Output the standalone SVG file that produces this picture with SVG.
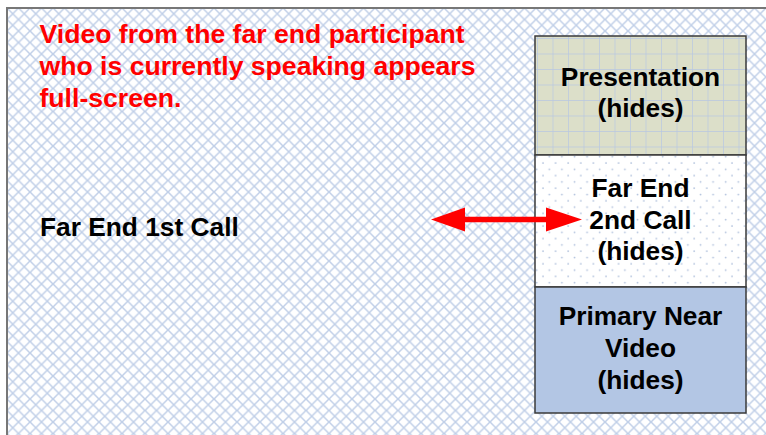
<svg xmlns="http://www.w3.org/2000/svg" width="766" height="435" viewBox="0 0 766 435">
<defs>
<pattern id="hatch" patternUnits="userSpaceOnUse" width="11.5" height="11.5" x="7" y="8">
<rect width="11.5" height="11.5" fill="#ffffff"/>
<path d="M-1,-1 L12.5,12.5 M12.5,-1 L-1,12.5" stroke="#c0cfe8" stroke-width="1.5" fill="none"/>
</pattern>
<pattern id="grid" patternUnits="userSpaceOnUse" width="15.5" height="15.5" x="537" y="38">
<rect width="15.5" height="15.5" fill="#dcdfc9"/>
<path d="M0,0 V15.5 M0,0 H15.5" stroke="#b8c8e2" stroke-width="1.4" fill="none"/>
</pattern>
<pattern id="dots" patternUnits="userSpaceOnUse" width="12.6" height="12.6" x="540" y="160">
<rect width="12.6" height="12.6" fill="#ffffff"/>
<circle cx="3" cy="3" r="0.9" fill="#b0c0dc"/>
<circle cx="9.3" cy="9.3" r="0.9" fill="#b0c0dc"/>
</pattern>
<style>
.t{font-family:"Liberation Sans",Arial,sans-serif;font-weight:bold;font-size:26.3px;fill:#000}
.red{fill:#ff0000;font-size:26.6px}
.c{text-anchor:middle}
.box{stroke:#3a3a3a;stroke-width:1.5}
</style>
</defs>
<g id="background">
<rect x="7" y="8" width="770" height="440" fill="url(#hatch)" stroke="#777777" stroke-width="2"/>
</g>
<g id="title">
<text class="t red" x="39.5" y="43">Video from the far end participant</text>
<text class="t red" x="39.5" y="75">who is currently speaking appears</text>
<text class="t red" x="39.5" y="107">full-screen.</text>
</g>
<g id="far-end-1st">
<text class="t" x="40" y="236">Far End 1st Call</text>
</g>
<g id="presentation">
<rect class="box" x="535" y="36" width="211" height="119" fill="url(#grid)"/>
<text class="t c" x="640.5" y="86">Presentation</text>
<text class="t c" x="640.5" y="117">(hides)</text>
</g>
<g id="far-end-2nd">
<rect class="box" x="535" y="155" width="211" height="132" fill="url(#dots)"/>
<text class="t c" x="640.5" y="197">Far End</text>
<text class="t c" x="640.5" y="229">2nd Call</text>
<text class="t c" x="640.5" y="260">(hides)</text>
</g>
<g id="primary-near">
<rect class="box" x="535" y="287" width="211" height="126" fill="#b3c6e4"/>
<text class="t c" x="640.5" y="325">Primary Near</text>
<text class="t c" x="640.5" y="357">Video</text>
<text class="t c" x="640.5" y="389">(hides)</text>
</g>
<g id="connectors">
<line x1="462" y1="219.5" x2="550" y2="219.5" stroke="#ff0000" stroke-width="5.5"/>
<polygon points="431,219.5 465,207.5 465,231.5" fill="#ff0000"/>
<polygon points="582,219.5 546,207.5 546,231.5" fill="#ff0000"/>
</g>
</svg>
